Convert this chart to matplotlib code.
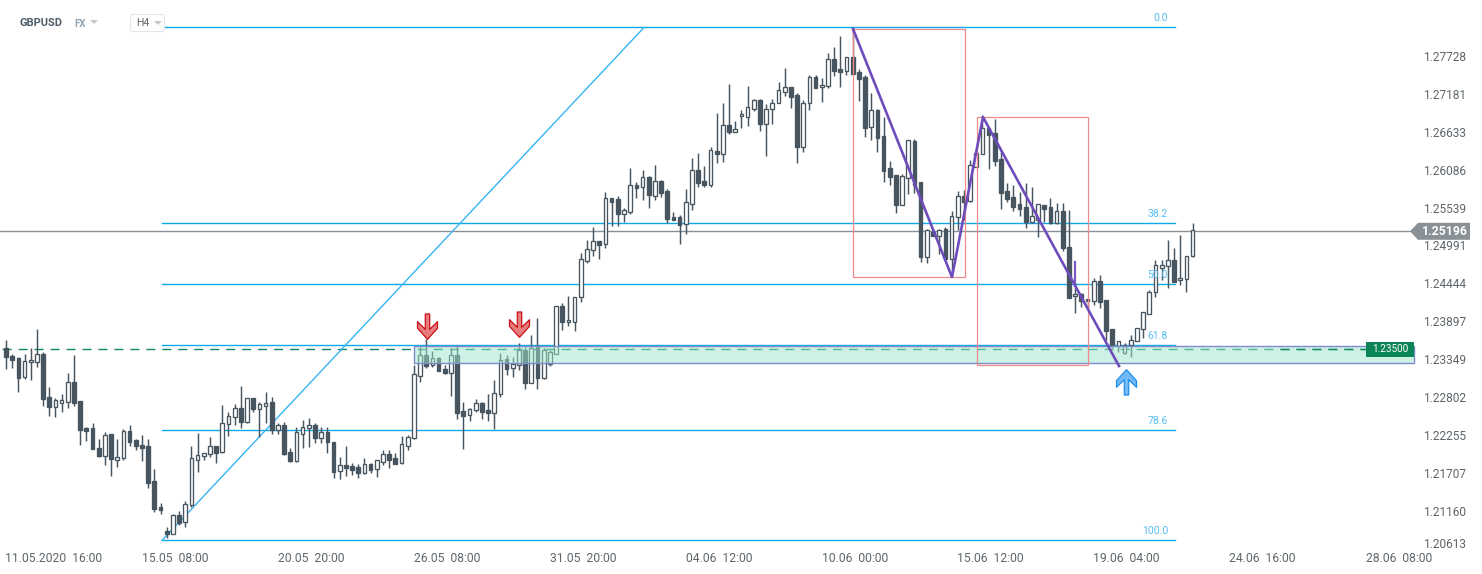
#!/usr/bin/env python3
"""GBPUSD H4 candles with fibo levels, zone and pattern drawings."""

import matplotlib

matplotlib.use("Agg")
import matplotlib.pyplot as plt
import numpy as np
from matplotlib.patches import FancyBboxPatch, Polygon, Rectangle
from matplotlib.path import Path

plt.rcParams["font.family"] = ["Roboto", "DejaVu Sans"]

opens = [
    1.23515, 1.23395, 1.23361, 1.23097, 1.23304, 1.23313, 1.23424, 1.22798, 1.22663, 1.22721,
    1.22735, 1.23020, 1.22745, 1.22350, 1.22355, 1.22061, 1.21955, 1.22264, 1.21898, 1.21927,
    1.22307, 1.22182, 1.22109, 1.22095, 1.21585, 1.21214, 1.20862, 1.20829, 1.21094, 1.20992,
    1.21238, 1.21898, 1.21946, 1.21984, 1.22090, 1.22004, 1.22418, 1.22519, 1.22639, 1.22437,
    1.22784, 1.22625, 1.22678, 1.22726, 1.22326, 1.22394, 1.22004, 1.21883, 1.22273, 1.22360,
    1.22394, 1.22215, 1.22292, 1.22148, 1.21734, 1.21816, 1.21801, 1.21787, 1.21710, 1.21830,
    1.21758, 1.21869, 1.21979, 1.21922, 1.21845, 1.22100, 1.22206, 1.23111, 1.23405, 1.23260,
    1.23361, 1.23207, 1.23145, 1.23410, 1.22596, 1.22538, 1.22610, 1.22711, 1.22610, 1.22577,
    1.22851, 1.23347, 1.23217, 1.23260, 1.23477, 1.23000, 1.23530, 1.23082, 1.23280, 1.23419,
    1.24113, 1.23881, 1.23891, 1.24247, 1.24772, 1.24921, 1.25051, 1.25008, 1.25672, 1.25658,
    1.25451, 1.25480, 1.25865, 1.25841, 1.25981, 1.25711, 1.25918, 1.25774, 1.25403, 1.25403,
    1.25297, 1.25595, 1.26082, 1.25923, 1.25870, 1.26351, 1.26318, 1.26727, 1.26635, 1.26857,
    1.26852, 1.26968, 1.27088, 1.26751, 1.26958, 1.27045, 1.27213, 1.27276, 1.27160, 1.26419,
    1.27045, 1.27420, 1.27276, 1.27290, 1.27680, 1.27536, 1.27517, 1.27709, 1.27492, 1.27420,
    1.26698, 1.26948, 1.26568, 1.26105, 1.26004, 1.25580, 1.25961, 1.26495, 1.25903, 1.24829,
    1.25190, 1.25133, 1.25224, 1.24800, 1.25398, 1.25701, 1.25629, 1.26129, 1.26317, 1.26683,
    1.26611, 1.26235, 1.25773, 1.25686, 1.25585, 1.25542, 1.25335, 1.25359, 1.25571, 1.25542,
    1.25320, 1.25484, 1.24964, 1.24256, 1.24290, 1.24213, 1.24194, 1.24478, 1.24203, 1.23780,
    1.23544, 1.23443, 1.23549, 1.23616, 1.23780, 1.24006, 1.24314, 1.24671, 1.24690, 1.24777,
    1.24488, 1.24502, 1.24834,
]
closes = [
    1.23385, 1.23337, 1.23082, 1.23318, 1.23333, 1.23424, 1.22779, 1.22663, 1.22755, 1.22755,
    1.23015, 1.22721, 1.22331, 1.22317, 1.22057, 1.21955, 1.22249, 1.21912, 1.21931, 1.22307,
    1.22158, 1.22100, 1.22071, 1.21565, 1.21185, 1.21175, 1.20824, 1.21094, 1.20988, 1.21257,
    1.21917, 1.21960, 1.21989, 1.22090, 1.21999, 1.22422, 1.22533, 1.22639, 1.22442, 1.22784,
    1.22634, 1.22697, 1.22721, 1.22326, 1.22394, 1.21979, 1.21883, 1.22292, 1.22374, 1.22394,
    1.22215, 1.22292, 1.22153, 1.21719, 1.21816, 1.21782, 1.21753, 1.21710, 1.21830, 1.21753,
    1.21888, 1.21975, 1.21893, 1.21840, 1.22119, 1.22220, 1.23130, 1.23405, 1.23255, 1.23361,
    1.23183, 1.23154, 1.23405, 1.22577, 1.22533, 1.22625, 1.22711, 1.22591, 1.22577, 1.22865,
    1.23342, 1.23212, 1.23275, 1.23477, 1.23000, 1.23511, 1.23082, 1.23487, 1.23448, 1.24113,
    1.23891, 1.23910, 1.24247, 1.24796, 1.24936, 1.25051, 1.25003, 1.25672, 1.25624, 1.25451,
    1.25499, 1.25860, 1.25827, 1.25976, 1.25725, 1.25918, 1.25754, 1.25379, 1.25364, 1.25292,
    1.25615, 1.26077, 1.25899, 1.25865, 1.26366, 1.26318, 1.26727, 1.26635, 1.26669, 1.26886,
    1.26987, 1.27088, 1.26751, 1.26968, 1.27045, 1.27232, 1.27276, 1.27141, 1.26419, 1.27045,
    1.27420, 1.27271, 1.27305, 1.27680, 1.27517, 1.27502, 1.27709, 1.27473, 1.27396, 1.26693,
    1.26943, 1.26548, 1.26072, 1.25985, 1.25580, 1.25990, 1.26510, 1.25869, 1.24829, 1.25210,
    1.25133, 1.25219, 1.24791, 1.25412, 1.25701, 1.25624, 1.26149, 1.26322, 1.26683, 1.26587,
    1.26216, 1.25754, 1.25662, 1.25552, 1.25518, 1.25335, 1.25412, 1.25585, 1.25523, 1.25320,
    1.25484, 1.24950, 1.24237, 1.24285, 1.24194, 1.24184, 1.24473, 1.24179, 1.23761, 1.23544,
    1.23606, 1.23549, 1.23631, 1.23794, 1.24025, 1.24314, 1.24704, 1.24704, 1.24777, 1.24468,
    1.24516, 1.24834, 1.25210,
]
highs = [
    1.23626, 1.23419, 1.23376, 1.23419, 1.23506, 1.23785, 1.23448, 1.22942, 1.22784, 1.22846,
    1.23145, 1.23410, 1.22745, 1.22374, 1.22422, 1.22191, 1.22292, 1.22264, 1.22191, 1.22336,
    1.22394, 1.22191, 1.22254, 1.22191, 1.21763, 1.21267, 1.20920, 1.21108, 1.21156, 1.21296,
    1.22095, 1.22283, 1.21999, 1.22225, 1.22095, 1.22682, 1.22591, 1.22702, 1.22962, 1.22784,
    1.22784, 1.22735, 1.22875, 1.22798, 1.22432, 1.22442, 1.22061, 1.22365, 1.22471, 1.22499,
    1.22432, 1.22365, 1.22365, 1.22158, 1.21936, 1.22095, 1.21845, 1.21835, 1.21917, 1.21845,
    1.21893, 1.22037, 1.22037, 1.21989, 1.22239, 1.22254, 1.23265, 1.23530, 1.23636, 1.23467,
    1.23376, 1.23265, 1.23506, 1.23554, 1.22735, 1.22649, 1.22774, 1.22735, 1.22846, 1.23048,
    1.23434, 1.23410, 1.23385, 1.23578, 1.23530, 1.23698, 1.23939, 1.23506, 1.23482, 1.24113,
    1.24161, 1.24262, 1.24247, 1.24883, 1.25071, 1.25263, 1.25061, 1.25759, 1.25677, 1.25706,
    1.25538, 1.26106, 1.25913, 1.26082, 1.25995, 1.26154, 1.25937, 1.25807, 1.25475, 1.25432,
    1.25807, 1.26255, 1.26327, 1.26139, 1.26409, 1.26900, 1.27045, 1.27319, 1.26790, 1.26948,
    1.27295, 1.27107, 1.27102, 1.27035, 1.27102, 1.27348, 1.27555, 1.27285, 1.27199, 1.27093,
    1.27454, 1.27454, 1.27406, 1.27777, 1.27854, 1.28017, 1.27709, 1.28142, 1.27535, 1.27454,
    1.27189, 1.26958, 1.26842, 1.26211, 1.26009, 1.26023, 1.26515, 1.26529, 1.25903, 1.25224,
    1.25224, 1.25224, 1.25253, 1.25489, 1.25778, 1.25792, 1.26226, 1.26322, 1.26876, 1.26683,
    1.26818, 1.26370, 1.25889, 1.25865, 1.25768, 1.25889, 1.25840, 1.25590, 1.25576, 1.25672,
    1.25600, 1.25600, 1.25504, 1.24444, 1.24300, 1.24213, 1.24516, 1.24565, 1.24203, 1.23780,
    1.23616, 1.23578, 1.23698, 1.23794, 1.24025, 1.24348, 1.24781, 1.24781, 1.25070, 1.24950,
    1.25142, 1.24834, 1.25321,
]
lows = [
    1.23207, 1.23217, 1.22880, 1.23058, 1.23048, 1.23241, 1.22673, 1.22528, 1.22519, 1.22591,
    1.22649, 1.22678, 1.22109, 1.22172, 1.22052, 1.21931, 1.21821, 1.21662, 1.21796, 1.21893,
    1.22100, 1.22037, 1.21883, 1.21484, 1.21146, 1.21113, 1.20761, 1.20819, 1.20954, 1.20930,
    1.21219, 1.21724, 1.21893, 1.21931, 1.21854, 1.21999, 1.22244, 1.22398, 1.22350, 1.22432,
    1.22591, 1.22230, 1.22432, 1.22268, 1.22268, 1.21965, 1.21869, 1.21869, 1.22061, 1.22085,
    1.22143, 1.22134, 1.21999, 1.21633, 1.21618, 1.21662, 1.21681, 1.21638, 1.21691, 1.21700,
    1.21652, 1.21821, 1.21772, 1.21840, 1.21840, 1.22037, 1.22191, 1.23024, 1.23217, 1.23241,
    1.23183, 1.23135, 1.22817, 1.22480, 1.22057, 1.22461, 1.22591, 1.22480, 1.22461, 1.22345,
    1.22798, 1.23125, 1.23097, 1.23193, 1.22923, 1.23000, 1.22918, 1.23063, 1.23255, 1.23419,
    1.23771, 1.23828, 1.23756, 1.24175, 1.24733, 1.24839, 1.24796, 1.24960, 1.25273, 1.25278,
    1.25331, 1.25446, 1.25682, 1.25648, 1.25538, 1.25648, 1.25696, 1.25311, 1.25359, 1.25013,
    1.25157, 1.25504, 1.25841, 1.25841, 1.25841, 1.26188, 1.26202, 1.26607, 1.26635, 1.26693,
    1.26717, 1.26939, 1.26645, 1.26284, 1.26746, 1.27045, 1.27155, 1.26977, 1.26188, 1.26347,
    1.26948, 1.27271, 1.27069, 1.27271, 1.27440, 1.27285, 1.27459, 1.27473, 1.27078, 1.26563,
    1.26515, 1.26341, 1.25913, 1.25865, 1.25465, 1.25571, 1.25735, 1.25744, 1.24757, 1.24743,
    1.25128, 1.24868, 1.24781, 1.24531, 1.25215, 1.25359, 1.25624, 1.26129, 1.26312, 1.26096,
    1.26139, 1.25523, 1.25624, 1.25489, 1.25422, 1.25248, 1.25311, 1.25118, 1.25325, 1.25301,
    1.25301, 1.24916, 1.24228, 1.24021, 1.24107, 1.24083, 1.24131, 1.24083, 1.23626, 1.23505,
    1.23457, 1.23423, 1.23375, 1.23616, 1.23655, 1.24001, 1.24242, 1.24492, 1.24382, 1.24468,
    1.24420, 1.24324, 1.24829,
]

fib_levels = [1.28140, 1.25316, 1.24428, 1.23554, 1.22326, 1.20730]
fib_labels = ["0.0", "38.2", "50.0", "61.8", "78.6", "100.0"]
fib_start = 25.24
fib_end = 189.16
fan_x = [25.24, 103.24]
fan_y = [1.20730, 1.28140]

pattern_x = [137.06, 153.07, 158.09, 180.10]
pattern_y = [1.28118, 1.24536, 1.26847, 1.23250]
pattern_boxes = [(137.06, 155.2, 1.24536, 1.28118), (157.1, 175.1, 1.23265, 1.26847)]

zone_x = [66.0, 227.8]
zone_y = [1.23294, 1.23539]
entry_price = 1.23500
last_price = 1.25196

down_arrows_x = [68.17, 83.06]
down_arrows_y = [1.23821, 1.23850]
up_arrow_x = [181.15]
up_arrow_y = [1.23019]

ytick_values = [1.27728, 1.27181, 1.26633, 1.26086, 1.25539, 1.24991, 1.24444,
                1.23897, 1.23349, 1.22802, 1.22255, 1.21707, 1.21160, 1.20698]
ytick_labels = ["1.27728", "1.27181", "1.26633", "1.26086", "1.25539", "1.24991", "1.24444",
                "1.23897", "1.23349", "1.22802", "1.22255", "1.21707", "1.21160", "1.20613"]
xtick_values = [7.7, 27.35, 49.35, 71.35, 93.35, 115.35, 137.35, 159.35, 181.35, 203.35, 225.35]
xtick_labels = ["11.05.2020  16:00", "15.05  08:00", "20.05  20:00", "26.05  08:00", "31.05  20:00",
                "04.06  12:00", "10.06  00:00", "15.06  12:00", "19.06  04:00", "24.06  16:00",
                "28.06  08:00"]

CANDLE = "#46555f"
FIB = "#0fa9ec"
FIB_TEXT = "#55bdf2"
TICK = "#5f666b"
W, H = 1482, 574


def fx(px):
    return px / W


def fy(py):
    return 1 - py / H


def arrow_marker(flip=False):
    verts = np.array([(-2.2, 12.5), (2.2, 12.5), (2.2, -2.8), (10, 4.8), (10, -1.8), (0, -12.8),
                      (-10, -1.8), (-10, 4.8), (-2.2, -2.8), (-2.2, 12.5)])
    if flip:
        verts = verts * [1, -1]
    codes = [Path.MOVETO] + [Path.LINETO] * 8 + [Path.CLOSEPOLY]
    return Path(verts, codes)


def main():
    o = np.array(opens)
    c = np.array(closes)
    x = np.arange(len(o))
    up = c >= o

    fig = plt.figure(figsize=(W / 100, H / 100), dpi=100)
    ax = fig.add_axes([0, 0, 1, 1])
    ax.set_xlim(-6 / 6.18, (W - 6) / 6.18)
    ax.set_ylim(1.20246, 1.28537)
    for spine in ax.spines.values():
        spine.set_visible(False)

    # niveaux et droites de fond
    ax.plot([ax.get_xlim()[0], zone_x[1]], [entry_price] * 2, color="#0e8a5e", lw=1.0,
            linestyle=(10, (6.5, 5)), zorder=1)
    ax.plot([206.2, zone_x[1]], [entry_price] * 2, color="#0e8a5e", lw=1.0,
            linestyle=(0, (6.5, 5)), zorder=5)
    ax.plot([ax.get_xlim()[0], zone_x[1]], [last_price] * 2, color="#8a9196", lw=1.0, zorder=1)
    for level, label in zip(fib_levels, fib_labels):
        ax.plot([fib_start, fib_end], [level, level], color=FIB, lw=1.0, zorder=1)
        ax.annotate(label, (188.03, level), xytext=(0, 6.5), textcoords="offset points",
                    ha="right", va="center", fontsize=7.5, color=FIB_TEXT, zorder=8)
    ax.plot(fan_x, fan_y, color="#35b5f4", lw=1.0, zorder=1)

    # bougies
    ax.vlines(x, lows, highs, color=CANDLE, lw=1.05, zorder=2)
    ax.bar(x[up], (c - o)[up], bottom=o[up], width=0.6, facecolor="white",
           edgecolor=CANDLE, linewidth=0.95, zorder=3)
    ax.bar(x[~up], (o - c)[~up], bottom=c[~up], width=0.6, facecolor=CANDLE,
           edgecolor=CANDLE, linewidth=0.95, zorder=3)

    # zone et figure
    ax.add_patch(Rectangle((zone_x[0], zone_y[0]), zone_x[1] - zone_x[0], zone_y[1] - zone_y[0],
                           facecolor=(157 / 255, 229 / 255, 204 / 255, 0.51),
                           edgecolor="#7f8bcb", linewidth=1.0, zorder=4))
    for x0, x1, y0, y1 in pattern_boxes:
        ax.add_patch(Rectangle((x0, y0), x1 - x0, y1 - y0, fill=False,
                               edgecolor="#ef8a8a", linewidth=0.9, zorder=4))
    ax.plot(pattern_x, pattern_y, color="#6e4cbc", lw=1.9, zorder=5)
    ax.plot([173, 173], [1.24444, 1.24753], color="#7a55c4", lw=1.6, zorder=5)

    ax.scatter(down_arrows_x, down_arrows_y, marker=arrow_marker(), s=340, facecolor="#e77c7c",
               edgecolor="#cc0f16", linewidth=0.9, zorder=6)
    ax.scatter(up_arrow_x, up_arrow_y, marker=arrow_marker(flip=True), s=340, facecolor="#72baf5",
               edgecolor="#1e90ee", linewidth=0.9, zorder=6)

    # axes
    ax.yaxis.tick_right()
    ax.set_yticks(ytick_values, ytick_labels)
    ax.set_xticks(xtick_values, xtick_labels)
    ax.tick_params(axis="y", length=0, pad=-42.5, labelsize=8.6, labelcolor=TICK)
    ax.tick_params(axis="x", length=0, pad=-15.8, labelsize=8.7, labelcolor=TICK)
    for label in ax.get_yticklabels():
        label.set_va("center_baseline")

    # etiquettes de prix
    tag_y = fy(56 + (1.27728 - last_price) / 0.00014444)
    ax.add_patch(Polygon([(fx(1410), tag_y), (fx(1418), tag_y + 8.5 / H), (fx(1470), tag_y + 8.5 / H),
                          (fx(1470), tag_y - 8.5 / H), (fx(1418), tag_y - 8.5 / H)],
                         transform=ax.transAxes, facecolor="#8a9196", edgecolor="none", zorder=7))
    ax.text(fx(1422), tag_y, f"{last_price:.5f}", transform=ax.transAxes, color="white",
            fontsize=8.8, fontweight="bold", va="center", zorder=8)
    ax.add_patch(Rectangle((fx(1366), fy(357)), 48 / W, 15 / H, transform=ax.transAxes,
                           facecolor="#0a8558", edgecolor="none", zorder=7))
    ax.text(fx(1390), fy(349.5), f"{entry_price:.5f}", transform=ax.transAxes, color="white",
            fontsize=7.2, ha="center", va="center", zorder=8)

    # en-tete
    ax.text(fx(20), fy(23), "GBPUSD", transform=ax.transAxes, fontsize=8, fontweight="bold",
            color="#4d5b66", va="center")
    ax.text(fx(74), fy(24), "FX", transform=ax.transAxes, fontsize=7, fontweight="bold",
            color="#8fa3b0", va="center")
    ax.add_patch(Polygon([(fx(90), fy(20)), (fx(98), fy(20)), (fx(94), fy(24))],
                         transform=ax.transAxes, facecolor="#c4c9cc", edgecolor="none"))
    ax.add_patch(FancyBboxPatch((130.5, H - 31.5), 34, 17, boxstyle="round,pad=0,rounding_size=2.5",
                                transform=None, facecolor="white", edgecolor="#e3e6e8", linewidth=0.8))
    ax.text(fx(136), fy(23), "H4", transform=ax.transAxes, fontsize=7.5, color="#5f666b", va="center")
    ax.add_patch(Polygon([(fx(154), fy(21)), (fx(162), fy(21)), (fx(158), fy(25))],
                         transform=ax.transAxes, facecolor="#c4c9cc", edgecolor="none"))

    fig.savefig("out.png", dpi=100)
    plt.close(fig)


if __name__ == "__main__":
    main()
